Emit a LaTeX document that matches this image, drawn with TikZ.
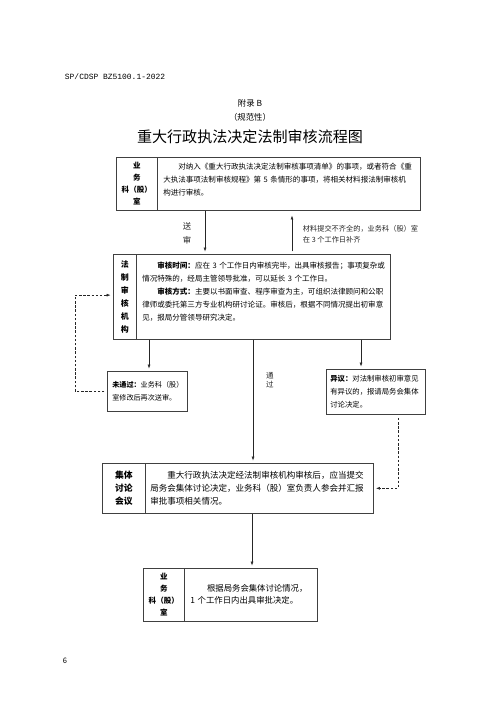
\documentclass[tikz,border=0pt]{standalone}
\usepackage{fontspec}
\setmainfont{Noto Sans CJK SC}
\newfontfamily\codefont{Liberation Mono}
\usetikzlibrary{arrows.meta,positioning,calc}
\newlength\px
\setlength\px{0.42mm}
\tikzset{
  labcell/.style={draw=black!75,line width=0.7pt,anchor=north west,align=center,
              inner sep=0pt,text=black},
  txtcell/.style={draw=black!75,line width=0.7pt,anchor=north west,align=left,
              inner ysep=0pt,text=black},
  flow/.style={-{Latex[length=4.5pt,width=3.4pt]},line width=0.6pt,draw=black!85,
              shorten >=3pt},
  backflow/.style={flow,densely dashed},
  elab/.style={font=\fontsize{9}{11.5}\selectfont,align=center,text=black!85},
}

\begin{document}
\begin{tikzpicture}[x=0.42mm,y=-0.42mm]
  \useasboundingbox[fill=white] (0,0) rectangle (500,707);

  % page head
  \node[anchor=west,font=\codefont\fontsize{9.5}{11}\selectfont] (code) at (62,77) {SP/CDSP BZ5100.1-2022};
  \node[font=\fontsize{10}{12}\selectfont] (appx) at (250,103) {附录~B};
  \node[font=\fontsize{10}{12}\selectfont] (norm) at (250,117) {（规范性）};
  \node[font=\fontsize{18}{22}\selectfont] (title) at (250,137) {重大行政执法决定法制审核流程图};

  % intake
  \node[labcell,minimum width=41*\px,minimum height=53*\px,
    font=\bfseries\fontsize{9}{14.5}\selectfont] (inlab) at (116,157) {业\\务\\科（股）\\室};
  \node[txtcell,minimum height=53*\px,text width=251*\px,inner xsep=6*\px,
    font=\fontsize{9}{15.5}\selectfont] (intake) at (157,157)
    {\hspace*{2em}对纳入《重大行政执法决定法制审核事项清单》的事项，或者符合《重\\
     大执法事项法制审核规程》第~5~条情形的事项，将相关材料报法制审核机\\
     构进行审核。\par\vspace*{10pt}};

  % review
  \node[labcell,minimum width=23*\px,minimum height=85*\px,
    font=\bfseries\fontsize{9.5}{15.5}\selectfont] (revlab) at (113,254) {法\\制\\审\\核\\机\\构};
  \node[txtcell,minimum height=85*\px,text width=242*\px,inner xsep=6*\px,
    font=\fontsize{9}{15.5}\selectfont] (review) at (136,254)
    {\hspace*{2em}\textbf{审核时间：}应在~3~个工作日内审核完毕，出具审核报告；事项复杂或\\
     情况特殊的，经局主管领导批准，可以延长~3~个工作日。\\
     \hspace*{2em}\textbf{审核方式：}主要以书面审查、程序审查为主，可组织法律顾问和公职\\
     律师或委托第三方专业机构研讨论证。审核后，根据不同情况提出初审意\\
     见，报局分管领导研究决定。\par\vspace*{12pt}};

  % outcomes
  \node[txtcell,minimum height=40*\px,text width=70*\px,inner xsep=5*\px,
    font=\fontsize{8.5}{15.5}\selectfont] (fail) at (107,371)
    {\textbf{未通过：}业务科（股）\\室修改后再次送审。};
  \node[txtcell,minimum height=45*\px,text width=91*\px,inner xsep=4*\px,
    font=\fontsize{8.8}{15.5}\selectfont] (object) at (326,369)
    {\textbf{异议：}对法制审核初审意见\\有异议的，报请局务会集体\\讨论决定。};

  % meeting
  \node[labcell,minimum width=43*\px,minimum height=50*\px,
    font=\bfseries\fontsize{10.5}{16}\selectfont] (meetlab) at (102,463) {集体\\讨论\\会议};
  \node[txtcell,minimum height=50*\px,text width=218*\px,inner xsep=5*\px,
    font=\fontsize{10.2}{16}\selectfont] (meet) at (145,463)
    {\hspace*{2em}重大行政执法决定经法制审核机构审核后，应当提交\\
     局务会集体讨论决定，业务科（股）室负责人参会并汇报\\
     审批事项相关情况。};

  % decision
  \node[labcell,minimum width=41*\px,minimum height=53*\px,
    font=\bfseries\fontsize{9}{14.3}\selectfont] (declab) at (143,568) {业\\务\\科（股）\\室};
  \node[txtcell,minimum height=53*\px,text width=121*\px,inner xsep=6*\px,
    font=\fontsize{10}{14.3}\selectfont] (decide) at (184,568)
    {\hspace*{2em}根据局务会集体讨论情况，\\1~个工作日内出具审批决定。};

  % connectors
  \draw[flow] (205,0 |- intake.south) -- (205,0 |- review.north);
  \node[elab,font=\fontsize{10}{16.5}\selectfont] (send) at (187,233) {送\\审};
  \draw[flow,shorten <=3pt,shorten >=6pt] (292,0 |- review.north) -- (292,0 |- intake.south);
  \node[elab,anchor=west,align=left,font=\fontsize{8.6}{13}\selectfont] (supply) at (300,234)
    {材料提交不齐全的，业务科（股）室\\在~3~个工作日补齐};

  \draw[flow] (149,0 |- review.south) -- (149,0 |- fail.north);
  \draw[flow] (253,0 |- review.south) -- (253,0 |- meet.north);
  \node[elab,font=\fontsize{9}{11}\selectfont] (pass) at (270,380) {通\\过};
  \draw[flow] (361,0 |- review.south) -- (361,0 |- object.north);
  \draw[flow] (252,0 |- meet.south) -- (252,0 |- decide.north);

  \draw[backflow,shorten <=3pt] (fail.west) -- (75,0 |- fail.west) |- ([yshift=2pt]revlab.west);
  \draw[backflow,shorten <=4pt] (398,0 |- object.south) |- (meet.east);

  % page number
  \node[font=\fontsize{9}{11}\selectfont] (pageno) at (65,661) {6};
\end{tikzpicture}
\end{document}
